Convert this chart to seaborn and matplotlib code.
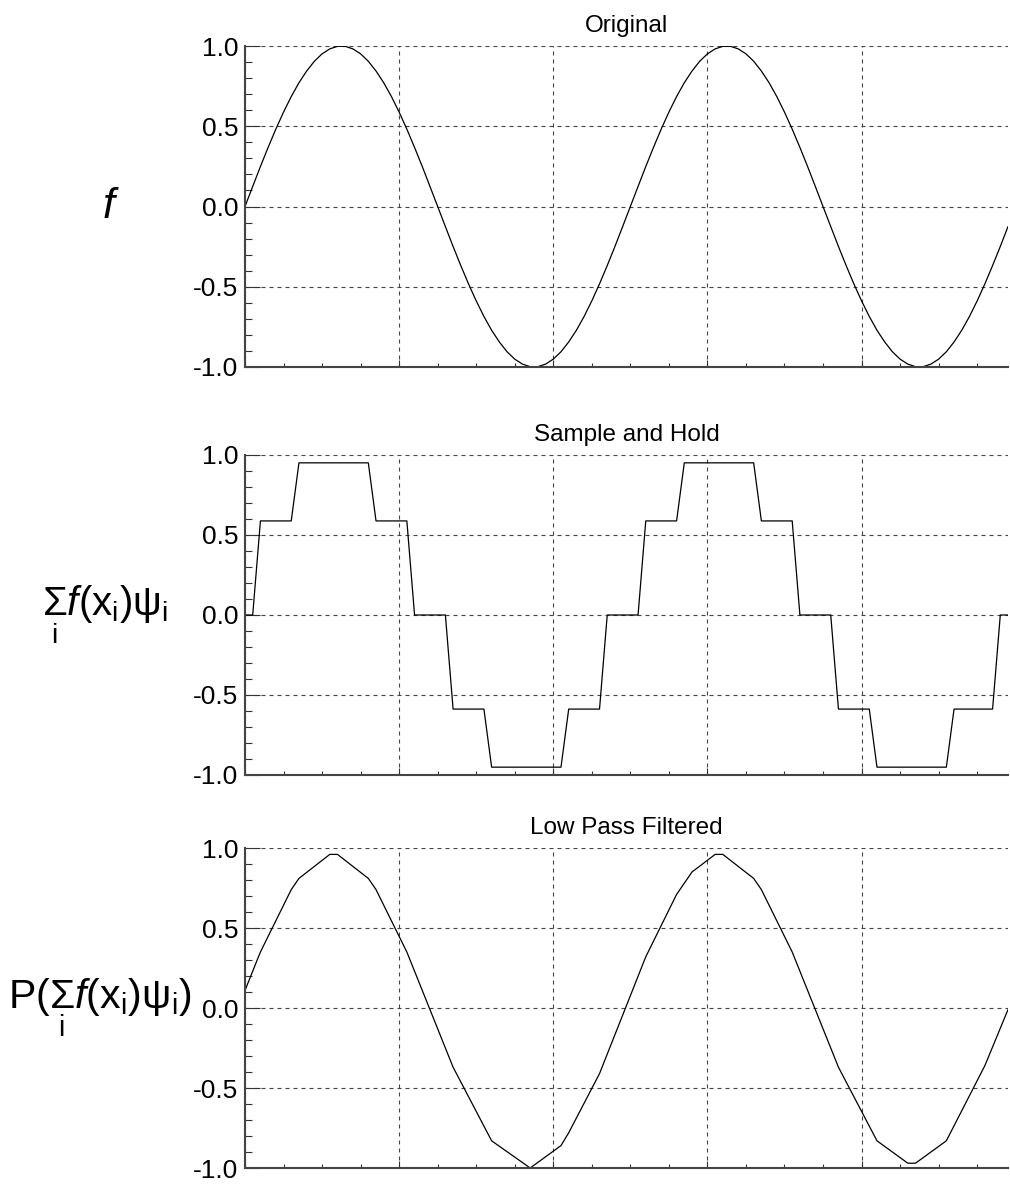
import numpy as np
import pandas as pd
import matplotlib
matplotlib.use("Agg")
import matplotlib.pyplot as plt
import seaborn as sns
from matplotlib.ticker import MultipleLocator, NullFormatter

# ---------------- data ----------------
grid_step = 0.05
orig_y = [0.0, 0.125, 0.249, 0.368, 0.482, 0.588, 0.685, 0.771, 0.844, 0.905,
          0.951, 0.982, 0.998, 0.998, 0.982, 0.951, 0.905, 0.844, 0.771, 0.685,
          0.588, 0.482, 0.368, 0.249, 0.125, 0.0, -0.125, -0.249, -0.368, -0.482,
          -0.588, -0.685, -0.771, -0.844, -0.905, -0.951, -0.982, -0.998, -0.998, -0.982,
          -0.951, -0.905, -0.844, -0.771, -0.685, -0.588, -0.482, -0.368, -0.249, -0.125,
          0.0, 0.125, 0.249, 0.368, 0.482, 0.588, 0.685, 0.771, 0.844, 0.905,
          0.951, 0.982, 0.998, 0.998, 0.982, 0.951, 0.905, 0.844, 0.771, 0.685,
          0.588, 0.482, 0.368, 0.249, 0.125, 0.0, -0.125, -0.249, -0.368, -0.482,
          -0.588, -0.685, -0.771, -0.844, -0.905, -0.951, -0.982, -0.998, -0.998, -0.982,
          -0.951, -0.905, -0.844, -0.771, -0.685, -0.588, -0.482, -0.368, -0.249, -0.125]

hold_x = [0.0, 0.05, 0.10, 0.30, 0.35, 0.80, 0.85, 1.05, 1.10, 1.30, 1.35, 1.55,
          1.60, 2.05, 2.10, 2.30, 2.35, 2.55, 2.60, 2.80, 2.85, 3.30, 3.35, 3.55,
          3.60, 3.80, 3.85, 4.05, 4.10, 4.55, 4.60, 4.85, 4.90, 4.95]
hold_y = [0.0, 0.0, 0.588, 0.588, 0.951, 0.951, 0.588, 0.588, 0.0, 0.0, -0.588, -0.588,
          -0.951, -0.951, -0.588, -0.588, 0.0, 0.0, 0.588, 0.588, 0.951, 0.951, 0.588, 0.588,
          0.0, 0.0, -0.588, -0.588, -0.951, -0.951, -0.588, -0.588, 0.0, 0.0]

lp_x = [0.0, 0.10, 0.30, 0.35, 0.55, 0.60, 0.80, 0.85, 1.05, 1.35, 1.60, 1.85,
        2.05, 2.10, 2.30, 2.60, 2.80, 2.90, 3.05, 3.10, 3.30, 3.35, 3.55, 3.85,
        4.10, 4.30, 4.35, 4.55, 4.80, 4.95]
lp_y = [0.11, 0.35, 0.74, 0.81, 0.96, 0.96, 0.81, 0.74, 0.35, -0.37, -0.83, -1.0,
        -0.86, -0.78, -0.41, 0.32, 0.71, 0.85, 0.96, 0.96, 0.81, 0.74, 0.35, -0.37,
        -0.83, -0.97, -0.97, -0.83, -0.36, -0.01]

titles = ["Original", "Sample and Hold", "Low Pass Filtered"]
ylabels = [r"$\mathit{f}$",
           r"$\underset{\mathrm{i}}{\Sigma}\mathit{f}\mathrm{(x_i)}\mathrm{\psi_i}$",
           r"$\mathrm{P(}\underset{\mathrm{i}}{\Sigma}\mathit{f}\mathrm{(x_i)}\mathrm{\psi_i)}$"]
y_ticks = [-1.0, -0.5, 0.0, 0.5, 1.0]
y_ticklabels = ["-1.0", "-0.5", "0.0", "0.5", "1.0"]
x_major = [0, 1, 2, 3, 4]
x_max = 4.95

# ---------------- style ----------------
sns.set_style("white")
plt.rcParams["font.family"] = ["Liberation Sans", "DejaVu Sans"]
plt.rcParams["mathtext.fontset"] = "custom"
plt.rcParams["mathtext.rm"] = "Liberation Sans"
plt.rcParams["mathtext.it"] = "Liberation Sans:italic"
plt.rcParams["mathtext.bf"] = "Liberation Sans:bold"
plt.rcParams["mathtext.sf"] = "Liberation Sans"
plt.rcParams["text.color"] = "black"

W, H = 1010, 1184
fig = plt.figure(figsize=(W / 100, H / 100), dpi=100)

# axes boxes in pixel coordinates (left, top, right, bottom)
boxes = [(245, 46, 1008, 367), (245, 455, 1008, 775), (245, 848, 1008, 1168)]
label_x = [-0.176, -0.1835, -0.19]
label_size = [31, 29, 29.5]

frames = [
    pd.DataFrame({"x": np.arange(len(orig_y)) * grid_step, "y": orig_y}),
    pd.DataFrame({"x": hold_x, "y": hold_y}),
    pd.DataFrame({"x": lp_x, "y": lp_y}),
]

for (l, t, r, b), df, title, ylab, lx, ls in zip(boxes, frames, titles, ylabels,
                                                 label_x, label_size):
    ax = fig.add_axes([l / W, 1 - b / H, (r - l) / W, (b - t) / H])
    sns.lineplot(data=df, x="x", y="y", ax=ax, color="black", linewidth=0.9,
                 estimator=None, sort=False)
    ax.set_xlim(0, x_max)
    ax.set_ylim(-1, 1)
    ax.set_yticks(y_ticks)
    ax.set_yticklabels(y_ticklabels, fontsize=19)
    ax.yaxis.set_minor_locator(MultipleLocator(0.1))
    ax.set_xticks(x_major)
    ax.xaxis.set_major_formatter(NullFormatter())
    ax.xaxis.set_minor_locator(MultipleLocator(0.25))
    ax.xaxis.set_minor_formatter(NullFormatter())
    ax.tick_params(which="both", left=True, bottom=True, top=False, right=False)
    ax.tick_params(axis="y", which="major", direction="in", length=10.5, width=0.8,
                   color="#333333", pad=5, labelcolor="black")
    ax.tick_params(axis="y", which="minor", direction="in", length=5, width=0.8,
                   color="#333333")
    ax.tick_params(axis="x", which="major", direction="in", length=5, width=0.8,
                   color="#333333")
    ax.tick_params(axis="x", which="minor", direction="in", length=2.6, width=0.8,
                   color="#333333")
    ax.grid(True, which="major", linestyle=(0, (3.6, 3.6)), linewidth=0.8,
            color="#444444")
    for side in ("top", "right"):
        ax.spines[side].set_visible(False)
    for side in ("left", "bottom"):
        ax.spines[side].set_linewidth(1.5)
        ax.spines[side].set_color("#444444")
    ax.set_xlabel("")
    ax.set_title(title, fontsize=17.5, pad=10, color="black")
    ax.set_ylabel(ylab, rotation=0, fontsize=ls, ha="center", va="center",
                  color="black")
    ax.yaxis.set_label_coords(lx, 0.5)

fig.savefig("out.png", dpi=100)
